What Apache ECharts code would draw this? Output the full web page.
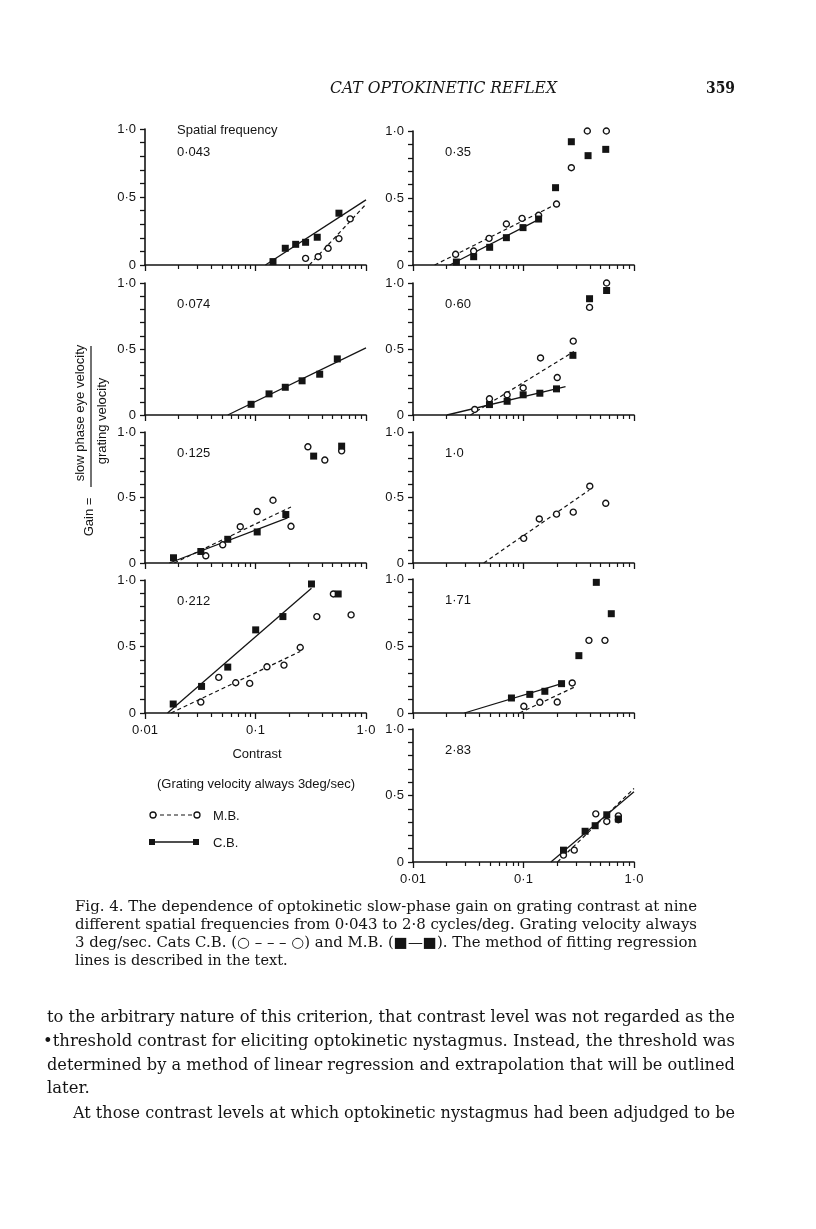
<!DOCTYPE html>
<html>
<head>
<meta charset="utf-8">
<script src="https://cdn.jsdelivr.net/npm/echarts@6.0.0/dist/echarts.min.js"></script>
<style>
html, body { margin: 0; padding: 0; background: #fff; }
#page { position: relative; width: 816px; height: 1229px; }
#chart { position: absolute; left: 0; top: 0; width: 816px; height: 1229px; }
#text { position: absolute; left: 0; top: 0; }
#text text { fill: #141414; font-family: "DejaVu Serif", serif; }
</style>
</head>
<body>
<div id="page">
<div id="chart"></div>
<svg id="text" width="816" height="1229">
  <text x="330" y="93" font-size="16.5" font-style="italic" textLength="227" lengthAdjust="spacingAndGlyphs">CAT OPTOKINETIC REFLEX</text>
  <text x="706" y="93" font-size="16.5" font-weight="bold" textLength="29" lengthAdjust="spacingAndGlyphs">359</text>

  <text x="75" y="911" font-size="14.5" textLength="622" lengthAdjust="spacingAndGlyphs">Fig. 4. The dependence of optokinetic slow-phase gain on grating contrast at nine</text>
  <text x="75" y="929" font-size="14.5" textLength="622" lengthAdjust="spacingAndGlyphs">different spatial frequencies from 0·043 to 2·8 cycles/deg. Grating velocity always</text>
  <text x="75" y="947" font-size="14.5" textLength="622" lengthAdjust="spacingAndGlyphs">3 deg/sec. Cats C.B. (○ – – – ○) and M.B. (■—■). The method of fitting regression</text>
  <text x="75" y="965" font-size="14.5">lines is described in the text.</text>

  <text x="47" y="1022" font-size="16.5" textLength="688" lengthAdjust="spacingAndGlyphs">to the arbitrary nature of this criterion, that contrast level was not regarded as the</text>
  <text x="43" y="1046" font-size="16.5" textLength="692" lengthAdjust="spacingAndGlyphs">•threshold contrast for eliciting optokinetic nystagmus. Instead, the threshold was</text>
  <text x="47" y="1070" font-size="16.5" textLength="688" lengthAdjust="spacingAndGlyphs">determined by a method of linear regression and extrapolation that will be outlined</text>
  <text x="47" y="1093" font-size="16.5">later.</text>
  <text x="73" y="1118" font-size="16.5" textLength="662" lengthAdjust="spacingAndGlyphs">At those contrast levels at which optokinetic nystagmus had been adjudged to be</text>
</svg>
</div>
<script>
// spatial frequencies (cycles/deg), one panel each
const frequencies = ['0·043', '0·074', '0·125', '0·212', '0·35', '0·60', '1·0', '1·71', '2·83'];
const xTickLabels = { '0.01': '0·01', '0.1': '0·1', '1': '1·0' };
const yTickLabels = { '0': '0', '0.5': '0·5', '1': '1·0' };

// points are [contrast, gain]; M.B. = open circles, C.B. = filled squares
// fits are the regression lines, [start, end]
const mb043 = [[0.284, 0.049], [0.369, 0.061], [0.454, 0.123], [0.569, 0.194], [0.719, 0.339]];
const cb043 = [[0.144, 0.025], [0.186, 0.123], [0.231, 0.152], [0.284, 0.167], [0.362, 0.204], [0.569, 0.381]];
const mbFit043 = [[0.307, 0], [1.0, 0.447]];
const cbFit043 = [[0.123, 0], [1.0, 0.479]];

const cb074 = [[0.0912, 0.081], [0.1326, 0.160], [0.186, 0.21], [0.264, 0.259], [0.381, 0.309], [0.55, 0.425]];
const cbFit074 = [[0.0561, 0], [1.0, 0.509]];

const mb125 = [[0.0355, 0.055], [0.0505, 0.139], [0.0728, 0.277], [0.1036, 0.393], [0.144, 0.479], [0.2095, 0.280],
  [0.298, 0.887], [0.424, 0.786], [0.602, 0.856]];
const cb125 = [[0.0181, 0.040], [0.032, 0.088], [0.0561, 0.181], [0.1036, 0.237], [0.188, 0.370], [0.336, 0.816], [0.602, 0.892]];
const mbFit125 = [[0.0184, 0], [0.2095, 0.428]];
const cbFit125 = [[0.0166, 0], [0.195, 0.345]];

const mb212 = [[0.032, 0.0825], [0.0465, 0.2675], [0.0662, 0.2275], [0.0886, 0.2225], [0.127, 0.3475], [0.181, 0.36],
  [0.254, 0.4925], [0.359, 0.725], [0.507, 0.895], [0.733, 0.7375]];
const cb212 = [[0.018, 0.0675], [0.0325, 0.2], [0.0561, 0.345], [0.1004, 0.625], [0.177, 0.725], [0.321, 0.97], [0.56, 0.895]];
const mbFit212 = [[0.0172, 0], [0.254, 0.4625]];
const cbFit212 = [[0.016, 0], [0.321, 0.9375]];

const mb35 = [[0.0243, 0.08], [0.0354, 0.104], [0.0488, 0.199], [0.070, 0.306], [0.097, 0.348], [0.137, 0.371],
  [0.199, 0.455], [0.271, 0.726], [0.378, 1.0], [0.562, 1.0]];
const cb35 = [[0.0247, 0.022], [0.0354, 0.062], [0.0494, 0.132], [0.070, 0.204], [0.099, 0.279], [0.137, 0.343],
  [0.195, 0.577], [0.271, 0.92], [0.384, 0.816], [0.555, 0.863]];
const mbFit35 = [[0.0157, 0], [0.199, 0.455]];
const cbFit35 = [[0.0215, 0], [0.145, 0.35]];

const mb60 = [[0.0362, 0.042], [0.0492, 0.123], [0.0711, 0.153], [0.0993, 0.205], [0.1426, 0.432], [0.202, 0.284],
  [0.282, 0.560], [0.396, 0.815], [0.565, 1.0]];
const cb60 = [[0.0492, 0.079], [0.0711, 0.104], [0.0993, 0.153], [0.1406, 0.165], [0.199, 0.198], [0.280, 0.452],
  [0.396, 0.881], [0.565, 0.943]];
const mbFit60 = [[0.0331, 0], [0.286, 0.481]];
const cbFit60 = [[0.0203, 0], [0.240, 0.215]];

const mb100 = [[0.1004, 0.188], [0.139, 0.336], [0.199, 0.373], [0.282, 0.388], [0.398, 0.586], [0.555, 0.456]];
const mbFit100 = [[0.0437, 0], [0.393, 0.556]];

const mb171 = [[0.1007, 0.05], [0.1406, 0.08], [0.202, 0.082], [0.276, 0.224], [0.391, 0.542], [0.546, 0.542]];
const cb171 = [[0.0778, 0.112], [0.114, 0.139], [0.156, 0.162], [0.221, 0.219], [0.317, 0.428], [0.456, 0.975], [0.623, 0.741]];
const mbFit171 = [[0.092, 0], [0.290, 0.194]];
const cbFit171 = [[0.0292, 0], [0.221, 0.219]];

const mb283 = [[0.230, 0.052], [0.288, 0.089], [0.451, 0.362], [0.567, 0.305], [0.722, 0.347], [0.722, 0.318]];
const cb283 = [[0.230, 0.089], [0.361, 0.231], [0.445, 0.273], [0.567, 0.355], [0.722, 0.323]];
const mbFit283 = [[0.203, 0], [1.0, 0.553]];
const cbFit283 = [[0.177, 0], [1.0, 0.529]];

const ink = '#141414';
const sans = '"Liberation Sans", Arial, sans-serif';
const fs = 13;

// panel layout: grid box in px, whether x labels show
const panels = [
  { f: 0, left: 145, top: 129, height: 136, mb: mb043, cb: cb043, mbFit: mbFit043, cbFit: cbFit043 },
  { f: 1, left: 145, top: 283, height: 132, mb: [], cb: cb074, mbFit: null, cbFit: cbFit074 },
  { f: 2, left: 145, top: 432, height: 131, mb: mb125, cb: cb125, mbFit: mbFit125, cbFit: cbFit125 },
  { f: 3, left: 145, top: 580, height: 133, mb: mb212, cb: cb212, mbFit: mbFit212, cbFit: cbFit212, xLabels: true },
  { f: 4, left: 413, top: 131, height: 134, mb: mb35, cb: cb35, mbFit: mbFit35, cbFit: cbFit35 },
  { f: 5, left: 413, top: 283, height: 132, mb: mb60, cb: cb60, mbFit: mbFit60, cbFit: cbFit60 },
  { f: 6, left: 413, top: 432, height: 131, mb: mb100, cb: [], mbFit: mbFit100, cbFit: null },
  { f: 7, left: 413, top: 579, height: 134, mb: mb171, cb: cb171, mbFit: mbFit171, cbFit: cbFit171 },
  { f: 8, left: 413, top: 729, height: 133, mb: mb283, cb: cb283, mbFit: mbFit283, cbFit: cbFit283, xLabels: true }
];

const grids = [], xAxes = [], yAxes = [], series = [], graphics = [];

function label(text, x, y, align) {
  return {
    type: 'text', x: x, y: y, silent: true,
    style: { text: text, fill: ink, fontFamily: sans, fontSize: fs, verticalAlign: 'middle', align: align || 'left' }
  };
}

panels.forEach(function (p, i) {
  grids.push({ left: p.left, top: p.top, width: 221, height: p.height });
  xAxes.push({
    type: 'log', logBase: 10, min: 0.01, max: 1, gridIndex: i,
    axisLine: { lineStyle: { color: ink, width: 1.6 } },
    axisTick: { length: 6, lineStyle: { color: ink, width: 1.3 } },
    minorTick: { show: true, splitNumber: 9, length: 4, lineStyle: { color: ink, width: 1.2 } },
    axisLabel: {
      show: !!p.xLabels, margin: 11, color: ink, fontFamily: sans, fontSize: fs,
      formatter: function (v) { return xTickLabels[String(+v.toPrecision(3))] || ''; }
    },
    splitLine: { show: false }
  });
  yAxes.push({
    type: 'value', min: 0, max: 1, interval: 0.1, gridIndex: i,
    axisLine: { show: true, lineStyle: { color: ink, width: 1.6 } },
    axisTick: { show: true, length: 5, lineStyle: { color: ink, width: 1.3 } },
    axisLabel: {
      margin: 9, color: ink, fontFamily: sans, fontSize: fs,
      formatter: function (v) { return yTickLabels[String(+v.toFixed(2))] || ''; }
    },
    splitLine: { show: false }
  });
  if (p.mbFit) series.push({
    type: 'line', xAxisIndex: i, yAxisIndex: i, data: p.mbFit, symbol: 'none', silent: true, z: 2,
    lineStyle: { color: ink, width: 1.2, type: [4, 3] }
  });
  if (p.cbFit) series.push({
    type: 'line', xAxisIndex: i, yAxisIndex: i, data: p.cbFit, symbol: 'none', silent: true, z: 2,
    lineStyle: { color: ink, width: 1.3 }
  });
  series.push({
    type: 'scatter', xAxisIndex: i, yAxisIndex: i, data: p.mb, symbol: 'circle', symbolSize: 6, clip: false, z: 3,
    itemStyle: { color: '#fff', borderColor: ink, borderWidth: 1.4, opacity: 1 }
  });
  series.push({
    type: 'scatter', xAxisIndex: i, yAxisIndex: i, data: p.cb, symbol: 'rect', symbolSize: 7, clip: false, z: 4,
    itemStyle: { color: ink, opacity: 1 }
  });
  graphics.push(label(frequencies[p.f], p.left + 32, p.top + (i === 0 ? 23 : 21)));
});

graphics.push(label('Spatial frequency', 177, 130));
graphics.push(label('Contrast', 257, 754, 'center'));
graphics.push(label('(Grating velocity always 3deg/sec)', 256, 784, 'center'));

// legend
graphics.push({ type: 'line', silent: true, shape: { x1: 153, y1: 815, x2: 197, y2: 815 }, style: { stroke: ink, lineWidth: 1.2, lineDash: [4, 3] } });
graphics.push({ type: 'circle', silent: true, shape: { cx: 153, cy: 815, r: 3 }, style: { fill: '#fff', stroke: ink, lineWidth: 1.3 } });
graphics.push({ type: 'circle', silent: true, shape: { cx: 197, cy: 815, r: 3 }, style: { fill: '#fff', stroke: ink, lineWidth: 1.3 } });
graphics.push(label('M.B.', 213, 816));
graphics.push({ type: 'line', silent: true, shape: { x1: 152, y1: 842, x2: 196, y2: 842 }, style: { stroke: ink, lineWidth: 1.3 } });
graphics.push({ type: 'rect', silent: true, shape: { x: 149, y: 839, width: 6, height: 6 }, style: { fill: ink } });
graphics.push({ type: 'rect', silent: true, shape: { x: 193, y: 839, width: 6, height: 6 }, style: { fill: ink } });
graphics.push(label('C.B.', 213, 843));

// y axis title: Gain = slow phase eye velocity / grating velocity
const vertical = { align: 'center', verticalAlign: 'middle', fill: ink, fontFamily: sans, fontSize: fs };
graphics.push({ type: 'text', x: 89, y: 517, rotation: Math.PI / 2, silent: true, style: Object.assign({ text: 'Gain =' }, vertical) });
graphics.push({ type: 'text', x: 80, y: 413, rotation: Math.PI / 2, silent: true, style: Object.assign({ text: 'slow phase eye velocity' }, vertical) });
graphics.push({ type: 'text', x: 102, y: 421, rotation: Math.PI / 2, silent: true, style: Object.assign({ text: 'grating velocity' }, vertical) });
graphics.push({ type: 'line', silent: true, shape: { x1: 91, y1: 346, x2: 91, y2: 487 }, style: { stroke: ink, lineWidth: 1.2 } });

const chart = echarts.init(document.getElementById('chart'));
chart.setOption({
  animation: false,
  backgroundColor: 'transparent',
  grid: grids,
  xAxis: xAxes,
  yAxis: yAxes,
  series: series,
  graphic: graphics
});
</script>
</body>
</html>
